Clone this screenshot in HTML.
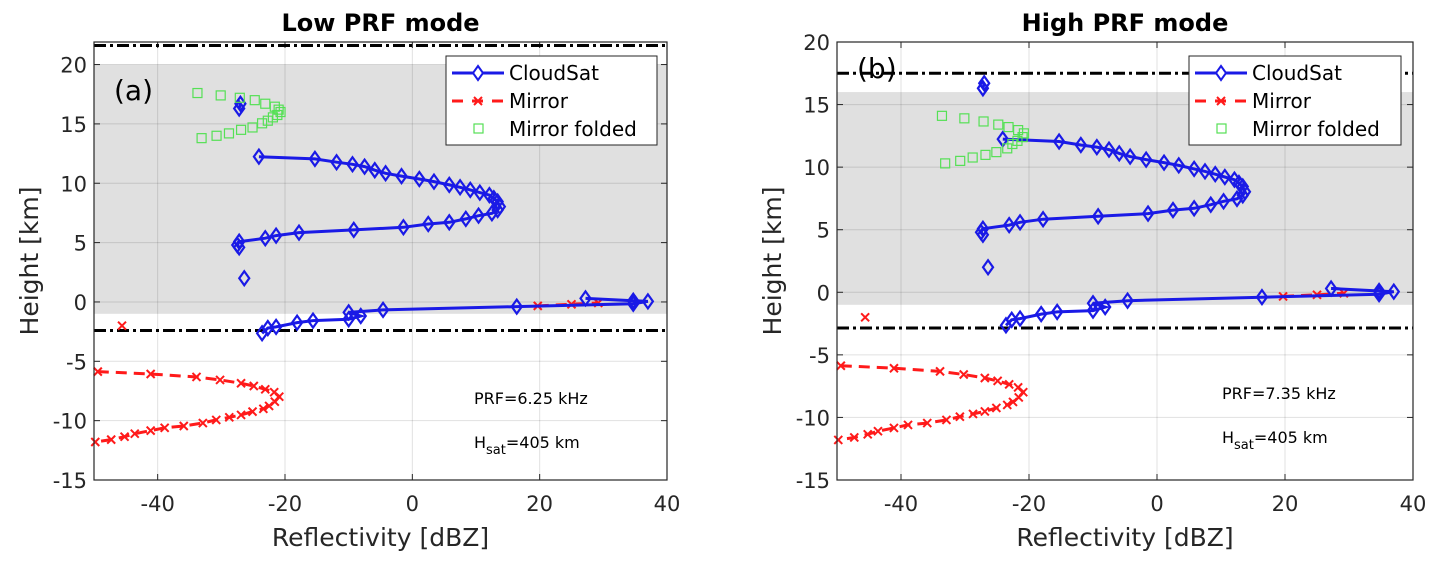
<!DOCTYPE html>
<html><head><meta charset="utf-8">
<style>
html,body{margin:0;padding:0;background:#fff;}
svg{display:block;font-family:"DejaVu Sans","Liberation Sans",sans-serif;}
</style></head>
<body>
<svg id="chart" width="1433" height="564" viewBox="0 0 1433 564" xmlns="http://www.w3.org/2000/svg"></svg>
<script>
// ---- data ----
const cloudX = [-27.2,-27.0,null,
 -24.1,-15.3,-11.9,-9.4,-7.5,-5.9,-4.2,-1.7,1.1,3.4,5.8,7.5,9.1,10.6,12.1,12.8,13.4,13.75,
 13.4,12.5,10.4,8.4,5.8,2.5,-1.4,-9.2,-17.8,-21.4,-23.1,-27.2,-27.5,-27.2,null,
 -26.4,null,
 -23.6,-22.7,-21.4,-18.1,-15.6,-10.0,-8.1,-10.0,-4.6,16.4,34.7,37.0,27.2,34.7];
const cloudY = [16.3,16.7,null,
 12.24,12.05,11.77,11.6,11.4,11.1,10.84,10.6,10.36,10.14,9.86,9.66,9.44,9.21,9.0,8.73,8.45,8.03,
 7.75,7.47,7.27,7.0,6.71,6.57,6.29,6.07,5.84,5.59,5.37,5.08,4.8,4.6,null,
 2.0,null,
 -2.64,-2.2,-2.1,-1.74,-1.57,-1.46,-1.18,-0.88,-0.67,-0.39,-0.15,0.05,0.3,0.1];
const mirrorX = [-45.6,null,
 -49.4,-41.1,-33.9,-30.2,-26.9,-24.9,-23.1,-21.7,-20.9,-21.6,-22.5,-23.4,-25.1,-26.9,-28.75,-30.8,-32.9,-35.9,-38.9,-41.1,-43.6,-45.2,-47.3,-49.8,null,
 19.7,25.0,29.2];
const mirrorY = [-2.0,null,
 -5.87,-6.07,-6.32,-6.57,-6.85,-7.08,-7.36,-7.6,-7.98,-8.4,-8.76,-9.0,-9.24,-9.52,-9.72,-9.94,-10.2,-10.45,-10.6,-10.84,-11.1,-11.35,-11.6,-11.8,null,
 -0.33,-0.2,-0.08];
const foldedX = [-33.75,-30.1,-27.1,-24.75,-23.1,-21.6,-21.0,-20.7,-21.2,-21.9,-22.7,-23.6,-25.1,-26.9,-28.8,-30.75,-33.1];
const foldedYLow = [17.6,17.4,17.2,17.0,16.7,16.45,16.2,16.0,15.75,15.55,15.27,15.05,14.7,14.5,14.2,14.0,13.8];
const foldedYHigh = [14.1,13.9,13.65,13.4,13.2,12.96,12.7,12.4,12.1,11.85,11.5,11.2,10.98,10.77,10.5,10.3];
const foldedXHigh = [-33.6,-30.1,-27.1,-24.8,-23.2,-21.7,-20.8,-21.0,-21.8,-22.6,-23.4,-25.1,-26.8,-28.8,-30.75,-33.1];
const xTicks = [-40,-20,0,20,40];
const yTicksLow = [-15,-10,-5,0,5,10,15,20];
const yTicksHigh = [-15,-10,-5,0,5,10,15,20];

const NS = "http://www.w3.org/2000/svg";
const svg = document.getElementById('chart');
function mk(tag, attrs, parent){
  const e = document.createElementNS(NS, tag);
  for (const k in attrs) e.setAttribute(k, attrs[k]);
  (parent||svg).appendChild(e);
  return e;
}

function panel(cfg){
  const g = mk('g', {});
  
  
  const sx = v => cfg.L + (v - cfg.xmin) / (cfg.xmax - cfg.xmin) * (cfg.R - cfg.L);
  const sy = v => cfg.B - (v - cfg.ymin) / (cfg.ymax - cfg.ymin) * (cfg.B - cfg.T);
  const sh = mk('rect', {x:cfg.L, y:sy(cfg.shadeTop), width:cfg.R-cfg.L, height:sy(cfg.shadeBot)-sy(cfg.shadeTop), fill:'#e0e0e0'}, g);
  
  
  xTicks.forEach(t => {
    const l = mk('line', {x1:sx(t), x2:sx(t), y1:cfg.T, y2:cfg.B, stroke:'#000', 'stroke-opacity':0.12, 'stroke-width':1}, g);
    
    
    const tl = mk('text', {x:sx(t), y:cfg.B+31, 'text-anchor':'middle', 'font-size':21, fill:'#262626'}, g);
    tl.textContent = t;
    
    
    mk('line', {x1:sx(t), x2:sx(t), y1:cfg.B, y2:cfg.B-6, stroke:'#262626'}, g);
    mk('line', {x1:sx(t), x2:sx(t), y1:cfg.T, y2:cfg.T+6, stroke:'#262626'}, g);
  });
  cfg.yTicks.forEach(t => {
    const l = mk('line', {x1:cfg.L, x2:cfg.R, y1:sy(t), y2:sy(t), stroke:'#000', 'stroke-opacity':0.12, 'stroke-width':1}, g);
    
    
    const tl = mk('text', {x:cfg.L-7, y:sy(t)+8, 'text-anchor':'end', 'font-size':21, fill:'#262626'}, g);
    tl.textContent = t;
    
    
    mk('line', {x1:cfg.L, x2:cfg.L+6, y1:sy(t), y2:sy(t), stroke:'#262626'}, g);
    mk('line', {x1:cfg.R, x2:cfg.R-6, y1:sy(t), y2:sy(t), stroke:'#262626'}, g);
  });
  [cfg.dashTop, cfg.dashBot].forEach(v => {
    const l = mk('line', {x1:cfg.L, x2:cfg.R, y1:sy(v), y2:sy(v), stroke:'#000', 'stroke-width':3, 'stroke-dasharray':'12 4 3 4'}, g);
    
    
  });
  function path(xs, ys){
    let d = '', pen = false;
    for (let i=0;i<xs.length;i++){
      if (xs[i]===null){ pen=false; continue; }
      d += (pen?'L':'M') + sx(xs[i]).toFixed(1) + ' ' + sy(ys[i]).toFixed(1) + ' ';
      pen = true;
    }
    return d;
  }
  const mp = mk('path', {d:path(mirrorX, mirrorY), fill:'none', stroke:'#ff1a1a', 'stroke-width':3, 'stroke-dasharray':'11 7'}, g);
  
  
  mirrorX.forEach((x,i) => {
    if (x===null) return;
    const X=sx(x), Y=sy(mirrorY[i]), s=4;
    const m = mk('path', {d:`M${X-s} ${Y-s}L${X+s} ${Y+s}M${X-s} ${Y+s}L${X+s} ${Y-s}`, stroke:'#ff1a1a', 'stroke-width':2}, g);
    
    
  });
  const cp = mk('path', {d:path(cloudX, cloudY), fill:'none', stroke:'#1a1ae6', 'stroke-width':3}, g);
  
  
  cloudX.forEach((x,i) => {
    if (x===null) return;
    const X=sx(x), Y=sy(cloudY[i]);
    const m = mk('path', {d:`M${X} ${Y-7}L${X+5} ${Y}L${X} ${Y+7}L${X-5} ${Y}Z`, fill:'none', stroke:'#1a1ae6', 'stroke-width':2.2}, g);
    
    
  });
  cfg.fx.forEach((x,i) => {
    const X=sx(x), Y=sy(cfg.fy[i]);
    const m = mk('rect', {x:X-4.5, y:Y-4.5, width:9, height:9, fill:'none', stroke:'#55e055', 'stroke-width':1.2}, g);
    
    
  });
  const bx = mk('rect', {x:cfg.L, y:cfg.T, width:cfg.R-cfg.L, height:cfg.B-cfg.T, fill:'none', stroke:'#262626', 'stroke-width':1.2}, g);
  
  
  const cx = (cfg.L+cfg.R)/2;
  const ti = mk('text', {x:cx, y:31, 'text-anchor':'middle', 'font-size':24, 'font-weight':'bold', fill:'#000'}, g);
  ti.textContent = cfg.title;
  
  
  const xl = mk('text', {x:cx, y:cfg.B+66, 'text-anchor':'middle', 'font-size':25, fill:'#262626'}, g);
  xl.textContent = 'Reflectivity [dBZ]';
  
  
  const yc = (cfg.T+cfg.B)/2;
  const yx = cfg.L-56;
  const yl = mk('text', {x:yx, y:yc, 'text-anchor':'middle', 'font-size':25, fill:'#262626', transform:`rotate(-90 ${yx} ${yc})`}, g);
  yl.textContent = 'Height [km]';
  
  
  const pl = mk('text', {x:cfg.L+20, y:cfg.panelY, 'font-size':28, fill:'#000'}, g);
  pl.textContent = cfg.panel;
  
  
  const pr = mk('text', {x:cfg.annX, y:cfg.annY, 'font-size':16, fill:'#000'}, g);
  pr.textContent = cfg.prf;
  
  
  const hs = mk('text', {x:cfg.annX, y:cfg.annY+44, 'font-size':16, fill:'#000'}, g);
  hs.innerHTML = 'H<tspan font-size="13" dy="6">sat</tspan><tspan dy="-6">=405 km</tspan>';
  
  
  const lg = mk('g', {}, g);
  
  
  const lx = cfg.legX, ly = 56;
  mk('rect', {x:lx, y:ly, width:cfg.legW, height:89, fill:'#fff', stroke:'#262626', 'stroke-width':1}, lg);
  mk('line', {x1:lx+6, x2:lx+58, y1:ly+17, y2:ly+17, stroke:'#1a1ae6', 'stroke-width':3}, lg);
  mk('path', {d:`M${lx+32} ${ly+10}L${lx+37} ${ly+17}L${lx+32} ${ly+24}L${lx+27} ${ly+17}Z`, fill:'#fff', stroke:'#1a1ae6', 'stroke-width':2}, lg);
  mk('line', {x1:lx+6, x2:lx+58, y1:ly+45, y2:ly+45, stroke:'#ff1a1a', 'stroke-width':3, 'stroke-dasharray':'11 9'}, lg);
  mk('path', {d:`M${lx+28} ${ly+41}L${lx+36} ${ly+49}M${lx+28} ${ly+49}L${lx+36} ${ly+41}`, stroke:'#ff1a1a', 'stroke-width':2}, lg);
  mk('rect', {x:lx+28, y:ly+68, width:9, height:9, fill:'none', stroke:'#55e055', 'stroke-width':1.2}, lg);
  const names = ['CloudSat','Mirror','Mirror folded'];
  names.forEach((n,i) => {
    const t = mk('text', {x:lx+63, y:ly+24+i*28, 'font-size':20, fill:'#000'}, lg);
    t.textContent = n;
    
    
  });
}

panel({id:'low-prf', L:94, R:667, T:42, B:480, xmin:-50, xmax:40, ymin:-15, ymax:21.9,
  yTicks:yTicksLow, shadeTop:20, shadeBot:-1, dashTop:21.6, dashBot:-2.4,
  fx:foldedX, fy:foldedYLow, title:'Low PRF mode', panel:'(a)', panelY:100,
  prf:'PRF=6.25 kHz', annX:474, annY:404, legX:446, legW:211});
panel({id:'high-prf', L:837, R:1413, T:42, B:480, xmin:-50, xmax:40, ymin:-15, ymax:20,
  yTicks:yTicksHigh, shadeTop:16, shadeBot:-1, dashTop:17.5, dashBot:-2.85,
  fx:foldedXHigh, fy:foldedYHigh, title:'High PRF mode', panel:'(b)', panelY:78,
  prf:'PRF=7.35 kHz', annX:1222, annY:399, legX:1189, legW:212});
</script>
</body></html>
